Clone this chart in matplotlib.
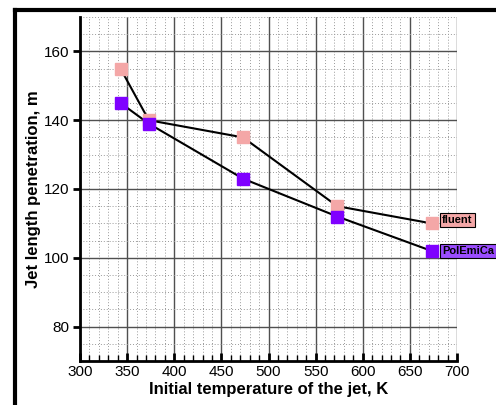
import matplotlib
matplotlib.use("Agg")
import matplotlib.pyplot as plt
from matplotlib.lines import Line2D
from matplotlib.ticker import MultipleLocator

plt.rcParams['font.family'] = ['Liberation Sans', 'DejaVu Sans']

temps = [343, 373, 473, 573, 673]
fluent = [155, 140, 135, 115, 110]
polemica = [145, 139, 123, 112, 102]

fig = plt.figure(figsize=(4.96, 4.05), dpi=100)
W, H = 496, 405
ax = fig.add_axes([80 / W, 1 - 361 / H, (457 - 80) / W, (361 - 17) / H])

ax.set_xlim(300, 700)
ax.set_ylim(70, 170)
ax.xaxis.set_major_locator(MultipleLocator(50))
ax.xaxis.set_minor_locator(MultipleLocator(10))
ax.yaxis.set_major_locator(MultipleLocator(20))
ax.yaxis.set_minor_locator(MultipleLocator(5))

ax.grid(which="major", color="#505050", lw=1.0, ls="-")
ax.grid(which="minor", color="#9a9a9a", lw=0.7, ls=(0, (1, 2)))
ax.set_axisbelow(True)

for s in ["top", "right"]:
    ax.spines[s].set_visible(False)
for s in ["left", "bottom"]:
    ax.spines[s].set_linewidth(2)

ax.tick_params(axis="x", which="major", direction="in", length=6, width=2, labelsize=11, pad=3)
ax.tick_params(axis="x", which="minor", direction="in", length=4, width=1)
ax.tick_params(axis="y", which="major", direction="out", length=5, width=2, labelsize=11, pad=3)
ax.tick_params(axis="y", which="minor", length=0)

ax.plot(temps, fluent, color="black", lw=1.5, zorder=3)
ax.plot(temps, polemica, color="black", lw=1.5, zorder=3)
ax.plot(temps, fluent, ls="none", marker="s", ms=8.5, color="#f4a7a7", zorder=4, clip_on=False)
ax.plot(temps, polemica, ls="none", marker="s", ms=8.5, color="#7f00ff", zorder=4, clip_on=False)

ax.text(temps[-1] + 11, fluent[-1] + 1, "fluent", fontsize=8, fontweight="bold",
        va="center", ha="left", zorder=5,
        bbox=dict(boxstyle="square,pad=0.2", fc="#f4a7a7", ec="black", lw=0.8))
ax.text(temps[-1] + 11, polemica[-1], "PolEmiCa", fontsize=8, fontweight="bold",
        va="center", ha="left", zorder=5, clip_on=False,
        bbox=dict(boxstyle="square,pad=0.2", fc="#9b4dff", ec="black", lw=0.8))

ax.set_xlabel("Initial temperature of the jet, K", fontsize=12, fontweight="bold", labelpad=2)
ax.set_ylabel("Jet length penetration, m", fontsize=12, fontweight="bold", labelpad=2)

# outer frame
fig.add_artist(Line2D([15 / W, 1.0], [1 - 10 / H, 1 - 10 / H], color="black", lw=3, transform=fig.transFigure))
fig.add_artist(Line2D([15 / W, 15 / W], [0.0, 1 - 10 / H], color="black", lw=3, transform=fig.transFigure))

fig.savefig("out.png", dpi=100)
